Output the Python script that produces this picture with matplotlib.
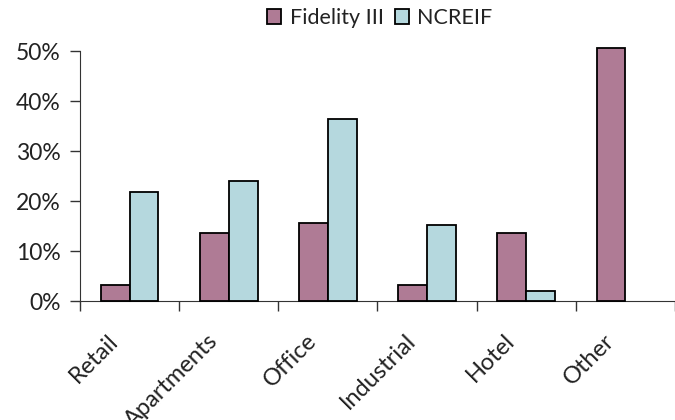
import matplotlib
matplotlib.use("Agg")
import matplotlib.pyplot as plt
import numpy as np
from matplotlib.ticker import FixedLocator, FuncFormatter
from matplotlib.transforms import ScaledTranslation

categories = ["Retail", "Apartments", "Office", "Industrial", "Hotel", "Other"]
fidelity = [3.2, 13.7, 15.7, 3.2, 13.7, 50.7]
ncreif = [21.9, 24.0, 36.4, 15.2, 2.0, 0.0]
yticks = [0, 10, 20, 30, 40, 50]

plt.rcParams['font.family'] = ['Lato', 'DejaVu Sans']

fig = plt.figure(figsize=(6.75, 4.2), dpi=100)
ax = fig.add_axes([80/675, 1-301/420, 1-80/675, (301-51)/420])

x = np.arange(len(categories))
w = 0.29
c1 = "#AF7B95"
c2 = "#B5D8DE"
b1 = ax.bar(x - w/2, fidelity, w, color=c1, edgecolor="black", linewidth=1.3,
            label="Fidelity III", clip_on=False, zorder=3)
b2 = ax.bar(x + w/2, ncreif, w, color=c2, edgecolor="black", linewidth=1.3,
            label="NCREIF", clip_on=False, zorder=3)
for r, v in zip(b2, ncreif):
    if v == 0:
        r.set_visible(False)

ax.set_xlim(-0.5, len(categories) - 0.5)
ax.set_ylim(0, 50)
ax.set_yticks(yticks)
ax.yaxis.set_major_formatter(FuncFormatter(lambda v, p: f"{int(v)}%"))
ax.tick_params(axis='y', direction='out', length=7, width=1, color="#333333",
               labelsize=16.5, pad=7, labelcolor="#222222")

ax.set_xticks(x)
ax.set_xticklabels(categories, rotation=45, ha='right', va='top',
                   rotation_mode='anchor', fontsize=17, color="#222222")
ax.tick_params(axis='x', which='major', length=0, pad=21)
ax.xaxis.set_minor_locator(FixedLocator(np.arange(-0.5, len(categories), 1.0)))
ax.tick_params(axis='x', which='minor', direction='out', length=7, width=1, color="#333333")
off = ScaledTranslation(-22/100, 0, fig.dpi_scale_trans)
for lab in ax.get_xticklabels():
    lab.set_transform(lab.get_transform() + off)

for s in ["top", "right"]:
    ax.spines[s].set_visible(False)
ax.spines["left"].set_color("#333333")
ax.spines["bottom"].set_color("#333333")

fig.legend(handles=[b1, b2], labels=["Fidelity III", "NCREIF"], loc='center',
           bbox_to_anchor=(380/675, 1-18/420), ncol=2, frameon=False,
           fontsize=15.5, handlelength=0.65, handleheight=0.65, handletextpad=0.4,
           columnspacing=0.5, labelcolor="#222222")

fig.savefig("out.png", dpi=100)
